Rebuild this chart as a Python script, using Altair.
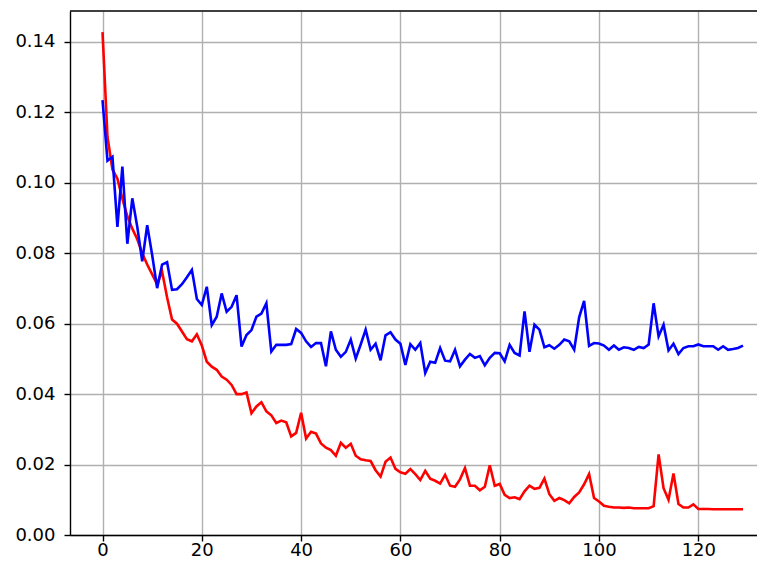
import altair as alt
import pandas as pd

steps = list(range(130))

red_vals = [
    0.1428, 0.1130, 0.1038, 0.1012, 0.0955, 0.0905, 0.0870, 0.0840, 0.0800, 0.0768,
    0.0740, 0.0712, 0.0748, 0.0675, 0.0612, 0.0600, 0.0578, 0.0556, 0.0550, 0.0570,
    0.0538, 0.0492, 0.0478, 0.0469, 0.0450, 0.0441, 0.0426, 0.0400, 0.0400, 0.0405,
    0.0346, 0.0365, 0.0377, 0.0351, 0.0340, 0.0318, 0.0325, 0.0320, 0.0280, 0.0290,
    0.0347, 0.0274, 0.0293, 0.0288, 0.0260, 0.0248, 0.0241, 0.0225, 0.0262, 0.0248,
    0.0259, 0.0225, 0.0215, 0.0212, 0.0210, 0.0184, 0.0166, 0.0208, 0.0220, 0.0188,
    0.0178, 0.0174, 0.0187, 0.0173, 0.0156, 0.0182, 0.0160, 0.0154, 0.0146, 0.0171,
    0.0140, 0.0137, 0.0158, 0.0190, 0.0140, 0.0140, 0.0127, 0.0137, 0.0198, 0.0140,
    0.0145, 0.0114, 0.0105, 0.0107, 0.0102, 0.0124, 0.0140, 0.0131, 0.0134, 0.0160,
    0.0116, 0.0097, 0.0105, 0.0099, 0.0090, 0.0108, 0.0121, 0.0144, 0.0173, 0.0105,
    0.0095, 0.0083, 0.0080, 0.0078, 0.0078, 0.0077, 0.0078, 0.0076, 0.0076, 0.0076,
    0.0076, 0.0082, 0.0229, 0.0133, 0.0100, 0.0175, 0.0088, 0.0078, 0.0078, 0.0087,
    0.0074, 0.0074, 0.0074, 0.0073, 0.0073, 0.0073, 0.0073, 0.0073, 0.0073, 0.0073,
]

blue_vals = [
    0.1235, 0.1063, 0.1074, 0.0875, 0.1046, 0.0827, 0.0956, 0.0875, 0.0777, 0.0880,
    0.0795, 0.0701, 0.0768, 0.0775, 0.0696, 0.0698, 0.0712, 0.0732, 0.0753, 0.0670,
    0.0653, 0.0705, 0.0596, 0.0620, 0.0686, 0.0634, 0.0648, 0.0681, 0.0535, 0.0568,
    0.0582, 0.0620, 0.0629, 0.0658, 0.0521, 0.0540, 0.0540, 0.0540, 0.0542, 0.0585,
    0.0574, 0.0550, 0.0534, 0.0545, 0.0545, 0.0479, 0.0578, 0.0526, 0.0506, 0.0520,
    0.0555, 0.0501, 0.0541, 0.0583, 0.0526, 0.0543, 0.0496, 0.0567, 0.0576, 0.0555,
    0.0543, 0.0483, 0.0542, 0.0526, 0.0545, 0.0460, 0.0492, 0.0489, 0.0531, 0.0495,
    0.0493, 0.0526, 0.0479, 0.0498, 0.0514, 0.0503, 0.0508, 0.0482, 0.0503, 0.0517,
    0.0516, 0.0493, 0.0540, 0.0517, 0.0510, 0.0635, 0.0520, 0.0597, 0.0583, 0.0533,
    0.0539, 0.0529, 0.0540, 0.0555, 0.0550, 0.0526, 0.0618, 0.0665, 0.0537, 0.0545,
    0.0544, 0.0538, 0.0526, 0.0538, 0.0526, 0.0533, 0.0531, 0.0526, 0.0534, 0.0531,
    0.0541, 0.0658, 0.0564, 0.0597, 0.0524, 0.0543, 0.0514, 0.0531, 0.0536, 0.0536,
    0.0541, 0.0536, 0.0536, 0.0536, 0.0526, 0.0536, 0.0526, 0.0528, 0.0531, 0.0538,
]

x_ticks = [0, 20, 40, 60, 80, 100, 120]
y_ticks = [0.00, 0.02, 0.04, 0.06, 0.08, 0.10, 0.12, 0.14]

df = pd.DataFrame({"step": steps, "red": red_vals, "blue": blue_vals})

W, H = 687, 524

x_enc = alt.X(
    "step:Q",
    scale=alt.Scale(domain=[-6.55, 131.82], nice=False, zero=False),
    axis=alt.Axis(values=x_ticks, format="d", title=None, labelPadding=0),
)


def y_enc(field):
    return alt.Y(
        f"{field}:Q",
        scale=alt.Scale(domain=[0, 0.1488], nice=False, zero=False),
        axis=alt.Axis(values=y_ticks, format=".2f", title=None, labelPadding=9),
    )


red_line = alt.Chart(df).mark_line(color="#ff0000", strokeWidth=2.6).encode(
    x=x_enc, y=y_enc("red")
)
blue_line = alt.Chart(df).mark_line(color="#0000ff", strokeWidth=2.6).encode(
    x=x_enc, y=y_enc("blue")
)

top_spine = alt.Chart(pd.DataFrame({"k": [0]})).mark_rule(
    color="black", strokeWidth=1.4
).encode(x=alt.value(0), x2=alt.value(W), y=alt.value(0))

chart = (
    alt.layer(red_line, blue_line, top_spine)
    .properties(
        width=W,
        height=H,
        padding={"left": 62, "top": 3, "right": 0, "bottom": 25},
        autosize=alt.AutoSizeParams(type="none"),
    )
    .configure_view(stroke=None)
    .configure_axis(
        grid=True,
        gridColor="#b0b0b0",
        gridWidth=1.4,
        gridOpacity=1,
        domainColor="black",
        domainWidth=1.4,
        tickColor="black",
        tickWidth=1.4,
        tickSize=6,
        labelFont="DejaVu Sans",
        labelFontSize=18,
        labelColor="black",
    )
)

chart.save("out.html", embed_options={"renderer": "svg", "actions": False})
